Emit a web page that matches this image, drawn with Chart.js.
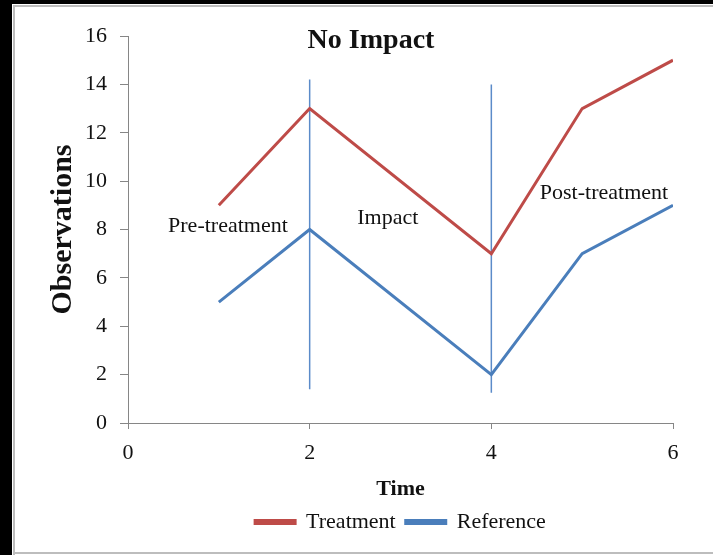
<!DOCTYPE html>
<html lang="en">
<head>
<meta charset="UTF-8">
<title>No Impact</title>
<script src="https://cdn.jsdelivr.net/npm/chart.js"></script>
<style>
  body { margin: 0; background: #000; }
  #wrap { width: 713px; height: 555px; }
</style>
</head>
<body>
<div id="wrap"><canvas id="myChart" width="713" height="555"></canvas></div>
<script>
// data
const times = [1, 2, 4, 5, 6];
const treatment = [9, 13, 7, 13, 15];
const reference = [5, 8, 2, 7, 9];
// the two phase dividers (time, top, bottom)
const dividerTimes = [2, 4];
const dividerTops = [14.2, 14.0];
const dividerBottoms = [1.4, 1.25];
// phase labels, placed in data units
const noteTexts = ['Pre-treatment', 'Impact', 'Post-treatment'];
const noteX = [1.1, 2.86, 5.24];
const noteY = [8.15, 8.45, 9.5];

const serif = '"Liberation Serif", "Times New Roman", serif';

const frame = {
  id: 'frame',
  beforeDraw(chart) {
    const c = chart.ctx;
    c.save();
    c.fillStyle = '#000';
    c.fillRect(0, 0, chart.width, chart.height);
    c.fillStyle = '#fff';
    c.fillRect(12, 4, chart.width - 12, chart.height - 4);
    c.strokeStyle = '#bdbdbd';
    c.lineWidth = 2;
    c.beginPath();
    c.moveTo(14, chart.height);
    c.lineTo(14, 6);
    c.lineTo(chart.width, 6);
    c.moveTo(14, 553);
    c.lineTo(chart.width, 553);
    c.stroke();
    c.restore();
  }
};

const notes = {
  id: 'notes',
  afterDatasetsDraw(chart) {
    const c = chart.ctx;
    const xs = chart.scales.x, ys = chart.scales.y;
    c.save();
    c.fillStyle = '#111';
    c.textAlign = 'center';
    c.textBaseline = 'middle';
    c.font = '22px ' + serif;
    noteTexts.forEach((t, i) => {
      c.fillText(t, xs.getPixelForValue(noteX[i]), ys.getPixelForValue(noteY[i]));
    });
    c.font = 'bold 28px ' + serif;
    c.fillText('No Impact', 371, 41);
    c.restore();
  }
};

const dividerSets = dividerTimes.map((t, i) => ({
  label: 'divider',
  data: [{x: t, y: dividerTops[i]}, {x: t, y: dividerBottoms[i]}],
  borderColor: '#5b8bc9',
  borderWidth: 1.5,
  pointRadius: 0
}));

new Chart(document.getElementById('myChart'), {
  type: 'line',
  data: {
    datasets: [
      {
        label: 'Treatment',
        data: times.map((t, i) => ({x: t, y: treatment[i]})),
        borderColor: '#be4b48',
        backgroundColor: '#be4b48',
        borderWidth: 3,
        pointRadius: 0
      },
      {
        label: 'Reference',
        data: times.map((t, i) => ({x: t, y: reference[i]})),
        borderColor: '#4a7ebb',
        backgroundColor: '#4a7ebb',
        borderWidth: 3,
        pointRadius: 0
      },
      ...dividerSets
    ]
  },
  options: {
    responsive: false,
    animation: false,
    layout: { padding: { left: 0, right: 40, top: 36, bottom: 12 } },
    plugins: {
      legend: {
        position: 'bottom',
        fullSize: false,
        labels: {
          filter: item => item.text !== 'divider',
          color: '#111',
          font: { family: serif, size: 22 },
          boxWidth: 40,
          boxHeight: 3,
          padding: 10
        }
      },
      tooltip: { enabled: false }
    },
    scales: {
      x: {
        type: 'linear',
        min: 0,
        max: 6,
        ticks: { stepSize: 2, color: '#111', font: { family: serif, size: 22 }, padding: 11 },
        grid: { drawOnChartArea: false, tickLength: 6, color: '#868686' },
        border: { color: '#868686' },
        title: { display: true, text: 'Time', color: '#111', font: { family: serif, size: 22, weight: 'bold' }, padding: { top: 0, bottom: -2 } },
        afterFit(scale) { scale.height = 78; }
      },
      y: {
        min: 0,
        max: 16,
        ticks: { stepSize: 2, color: '#111', font: { family: serif, size: 22 }, padding: 13 },
        grid: { drawOnChartArea: false, tickLength: 8, color: '#868686' },
        border: { color: '#868686' },
        title: { display: true, text: 'Observations', color: '#111', font: { family: serif, size: 30, weight: 'bold' }, padding: { top: 45, bottom: 0 } },
        afterFit(scale) { scale.width = 128; }
      }
    }
  },
  plugins: [frame, notes]
});
</script>
</body>
</html>
